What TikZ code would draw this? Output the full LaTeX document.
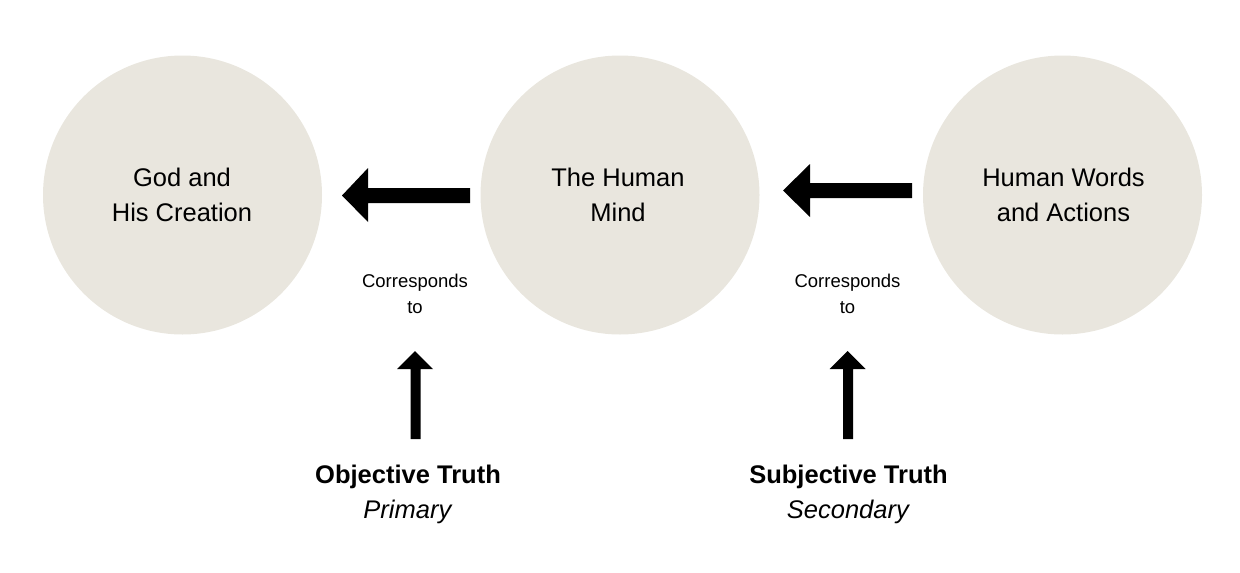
\documentclass[tikz,border=0pt]{standalone}
\usepackage{fontspec}
\setmainfont{Liberation Sans}
\definecolor{circ}{HTML}{E9E6DE}
\begin{document}
\begin{tikzpicture}[x=1pt,y=-1pt,
  bubble/.style={circle,fill=circ,minimum size=279pt,inner sep=0pt},
  bigtxt/.style={align=center,font=\fontsize{25.5}{35}\selectfont,inner sep=0pt},
  smalltxt/.style={align=center,font=\fontsize{18.5}{26}\selectfont,inner sep=0pt},
  blockarrow/.style={fill=black}]
\useasboundingbox (0,0) rectangle (1240,573);
\node[bubble] (god) at (182.5,195) {};
\node[bubble] (mind) at (620,195) {};
\node[bubble] (words) at (1062.5,195) {};
\node[bigtxt] (godt) at (182,195) {God and\\His Creation};
\node[bigtxt] (mindt) at (618,195) {The Human\\Mind};
\node[bigtxt] (wordst) at (1063.5,195) {Human Words\\and Actions};
% horizontal block arrows
\fill[blockarrow] (470,188) -- (368,188) -- (368,168) -- (342,195.5) -- (368,222) -- (368,203) -- (470,203) -- cycle;
\fill[blockarrow] (912,183) -- (810,183) -- (810,164) -- (783,190.5) -- (810,217) -- (810,198) -- (912,198) -- cycle;
% labels
\node[smalltxt] (c1) at (415,294) {Corresponds\\to};
\node[smalltxt] (c2) at (847.5,294) {Corresponds\\to};
% vertical block arrows
\fill[blockarrow] (410.5,439) -- (410.5,369) -- (397,369) -- (415,351) -- (433,369) -- (420.5,369) -- (420.5,439) -- cycle;
\fill[blockarrow] (843,439) -- (843,369) -- (829.5,369) -- (847.5,351) -- (865.5,369) -- (853,369) -- (853,439) -- cycle;
\node[bigtxt] (obj) at (408,494.5) {\textbf{Objective Truth}\\\textit{Primary}};
\node[bigtxt] (subj) at (848.5,494.5) {\textbf{Subjective Truth}\\\textit{Secondary}};
\end{tikzpicture}
\end{document}
